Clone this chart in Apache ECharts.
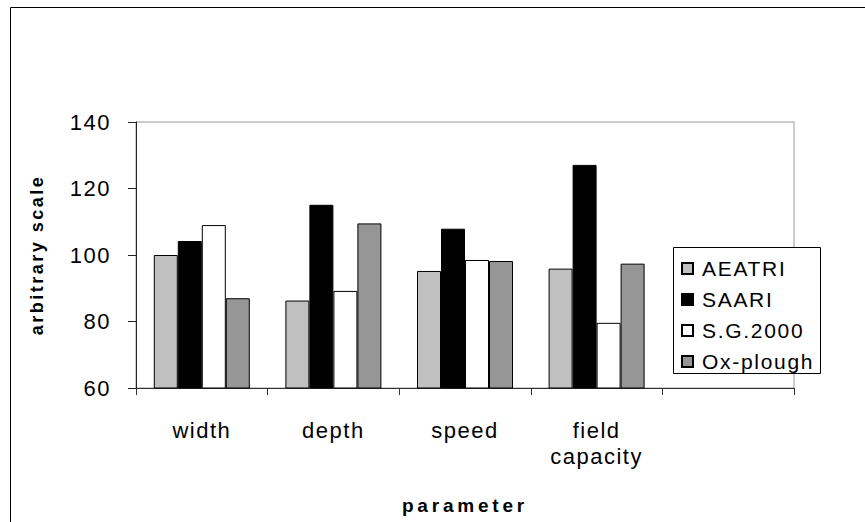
<!DOCTYPE html>
<html>
<head>
<meta charset="utf-8">
<script src="https://cdn.jsdelivr.net/npm/echarts@6/dist/echarts.min.js"></script>
<style>
html, body { margin: 0; padding: 0; background: #fff; }
#chart { width: 865px; height: 522px; }
#chart text { letter-spacing: 1.5px; }
#chart text[style*="21px"] { letter-spacing: 1.7px; }
#chart text[style*="bold"] { letter-spacing: 2.5px; }
#chart text[style*="bold"][style*="19px"] { letter-spacing: 3.8px; }
</style>
</head>
<body>
<div id="chart"></div>
<script>
const categories = ['width', 'depth', 'speed', 'field\ncapacity', ''];
const seriesNames = ['AEATRI', 'SAARI', 'S.G.2000', 'Ox-plough'];
const aeatri = [100, 86.3, 95.2, 95.9, null];
const saari = [104.2, 115.1, 107.9, 127.1, null];
const sg2000 = [109, 89.2, 98.5, 79.6, null];
const oxPlough = [87, 109.5, 98.2, 97.4, null];
const yTicks = [60, 80, 100, 120, 140];

const colors = ['#c0c0c0', '#000000', '#ffffff', '#969696'];
const values = [aeatri, saari, sg2000, oxPlough];
const FONT = 'Liberation Sans, Arial, sans-serif';

const chart = echarts.init(document.getElementById('chart'), null, { renderer: 'svg' });
chart.setOption({
  animation: false,
  backgroundColor: '#fff',
  textStyle: { fontFamily: FONT },
  grid: {
    left: 136, right: 71, top: 122, bottom: 134,
    show: true, borderColor: '#999', borderWidth: 1, backgroundColor: 'transparent'
  },
  graphic: [
    { type: 'rect', silent: true, z: 0,
      shape: { x: 10.5, y: 7.5, width: 1000, height: 1000 },
      style: { fill: null, stroke: '#000', lineWidth: 1 } },
    { type: 'rect', silent: true, z: 5,
      shape: { x: 673.5, y: 247.5, width: 147, height: 126 },
      style: { fill: '#fff', stroke: '#000', lineWidth: 1 } }
  ],
  legend: {
    orient: 'vertical',
    left: 681, top: 258,
    padding: 0,
    z: 10,
    itemWidth: 11, itemHeight: 11,
    itemGap: 10,
    icon: 'rect',
    data: seriesNames,
    textStyle: { fontSize: 21, color: '#000', fontFamily: FONT, padding: [0, 0, 0, 4] }
  },
  xAxis: {
    type: 'category',
    data: categories,
    boundaryGap: true,
    axisLine: { lineStyle: { color: '#333', width: 1 } },
    axisTick: { show: true, length: 7, alignWithLabel: false, lineStyle: { color: '#333' } },
    axisLabel: { fontSize: 22, color: '#000', margin: 29, lineHeight: 26, interval: 0, fontFamily: FONT },
    name: 'parameter',
    nameLocation: 'middle',
    nameGap: 108,
    nameTextStyle: { fontSize: 19, fontWeight: 'bold', color: '#000', fontFamily: FONT }
  },
  yAxis: {
    type: 'value',
    min: yTicks[0], max: yTicks[yTicks.length - 1], interval: 20,
    axisLine: { show: true, lineStyle: { color: '#222', width: 1 } },
    axisTick: { show: true, length: 8, lineStyle: { color: '#222' } },
    splitLine: { show: false },
    axisLabel: { fontSize: 22, color: '#000', margin: 25, fontFamily: FONT },
    name: 'arbitrary scale',
    nameLocation: 'middle',
    nameGap: 90,
    nameTextStyle: { fontSize: 18, fontWeight: 'bold', color: '#000', fontFamily: FONT }
  },
  series: seriesNames.map((n, i) => ({
    name: n,
    type: 'bar',
    data: values[i],
    barWidth: 24,
    barGap: '0%',
    itemStyle: { color: colors[i], borderColor: '#000', borderWidth: 1 }
  }))
});
</script>
</body>
</html>
